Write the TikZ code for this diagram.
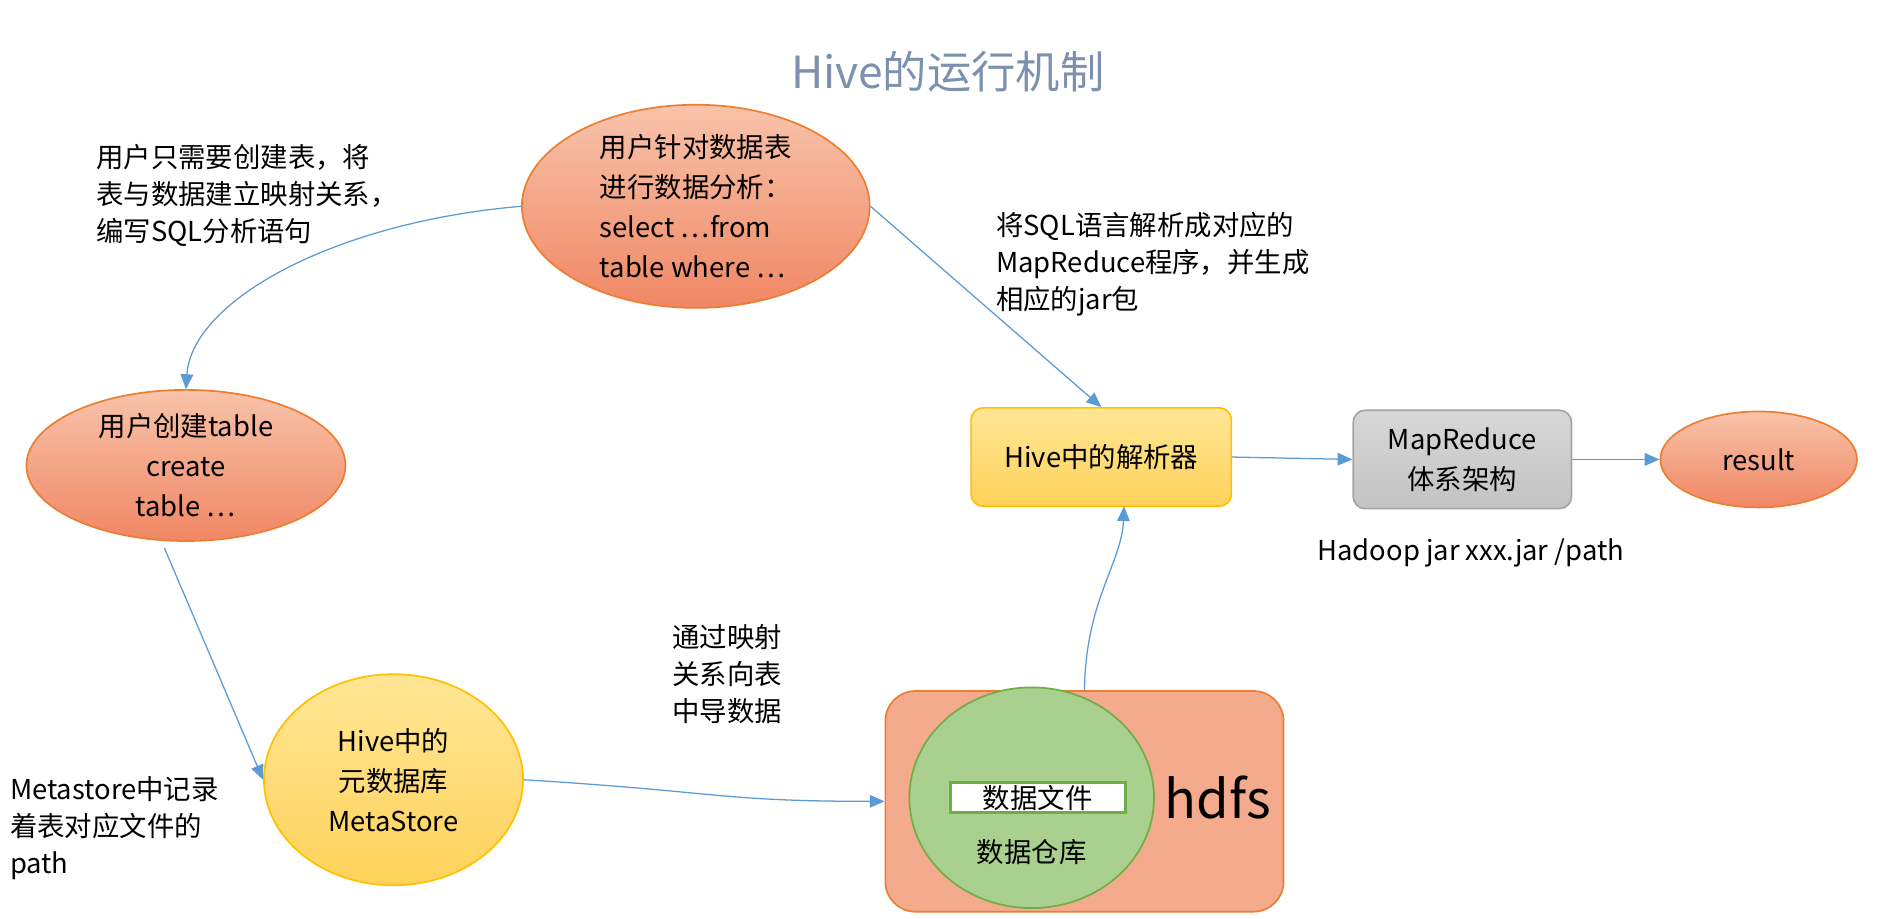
\documentclass[tikz,border=0pt]{standalone}
\usepackage{fontspec}
\setmainfont{Noto Sans CJK SC}
\usetikzlibrary{arrows.meta,shapes.geometric}
\definecolor{salmonA}{RGB}{240,135,100}
\definecolor{salmonB}{RGB}{248,195,170}
\definecolor{salmonE}{RGB}{237,125,49}
\definecolor{yelA}{RGB}{255,210,90}
\definecolor{yelB}{RGB}{255,230,150}
\definecolor{yelE}{RGB}{255,192,0}
\definecolor{grayA}{RGB}{195,195,195}
\definecolor{grayB}{RGB}{215,215,215}
\definecolor{grayE}{RGB}{165,165,165}
\definecolor{greenF}{RGB}{169,208,142}
\definecolor{greenE}{RGB}{112,173,71}
\definecolor{hdfsF}{RGB}{244,170,140}
\definecolor{arr}{RGB}{91,155,213}
\definecolor{titlec}{RGB}{125,145,175}
\tikzset{
 salm/.style={ellipse,draw=salmonE,line width=0.8pt,top color=salmonB,bottom color=salmonA,align=center,inner sep=0pt,font=\fontsize{13}{19}\selectfont},
 yel/.style={draw=yelE,line width=0.8pt,top color=yelB,bottom color=yelA,align=center,font=\fontsize{13}{19}\selectfont},
 conn/.style={draw=arr,line width=0.6pt,-{Triangle[length=7pt,width=6pt]}},
 lbl/.style={align=left,anchor=north west,font=\fontsize{13}{17.5}\selectfont,inner sep=0pt}
}
\begin{document}
\begin{tikzpicture}[x=0.02cm,y=-0.02cm]
\useasboundingbox (0,0) rectangle (1568,766);
\node[font=\fontsize{21}{25}\selectfont,text=titlec] (title) at (790,60) {Hive的运行机制};
\node[salm,minimum width=290\pgflinewidth*0+5.8cm,minimum height=2.8cm,align=left] (e1) at (580,172) {用户针对数据表\\进行数据分析：\\select …from\\table where …};
\node[salm,minimum width=5.32cm,minimum height=2.52cm] (e2) at (155,388) {用户创建table\\create\\table …};
\node[yel,ellipse,minimum width=4.32cm,minimum height=3.52cm,inner sep=0pt] (e3) at (328,650) {Hive中的\\元数据库\\MetaStore};
\node[draw=salmonE,line width=0.8pt,fill=hdfsF,rounded corners=0.5cm,minimum width=6.64cm,minimum height=3.68cm] (hdfs) at (904,668) {};
\node[ellipse,draw=greenE,line width=0.8pt,fill=greenF,minimum width=4.08cm,minimum height=3.68cm] (wh) at (860,665) {};
\node[draw=greenE,line width=1.5pt,fill=white,minimum width=2.92cm,minimum height=0.5cm,inner sep=0pt,font=\fontsize{13}{15}\selectfont] (file) at (865,665) {数据文件};
\node[font=\fontsize{13}{15}\selectfont] (whl) at (860,710) {数据仓库};
\node[font=\fontsize{25}{28}\selectfont] (hdfsl) at (1015,665) {hdfs};
\node[yel,rounded corners=0.2cm,minimum width=4.34cm,minimum height=1.64cm] (parser) at (918,381) {Hive中的解析器};
\node[draw=grayE,line width=0.8pt,top color=grayB,bottom color=grayA,rounded corners=0.2cm,minimum width=3.64cm,minimum height=1.64cm,align=center,font=\fontsize{13}{19}\selectfont] (mr) at (1219,383) {MapReduce\\体系架构};
\node[salm,minimum width=3.28cm,minimum height=1.6cm] (res) at (1466,383) {result};
\node[lbl] (t1) at (80,120) {用户只需要创建表，将\\表与数据建立映射关系，\\编写SQL分析语句};
\node[lbl] (t2) at (830,177) {将SQL语言解析成对应的\\MapReduce程序，并生成\\相应的jar包};
\node[lbl] (t3) at (8,647) {Metastore中记录\\着表对应文件的\\path};
\node[lbl] (t4) at (560,520) {通过映射\\关系向表\\中导数据};
\node[font=\fontsize{13}{15}\selectfont] (t5) at (1226,461) {Hadoop jar xxx.jar /path};
\draw[conn] (e1.west) .. controls (280,185) and (160,250) .. (e2.north);
\draw[conn] (e1.east) -- (parser.north);
\draw[conn] (e2.south) ++(-18,5) coordinate (s2) -- (e3.west);
\draw[conn] (e3.east) .. controls (600,660) and (600,668) .. (hdfs.west);
\draw[conn] (hdfs.north) .. controls (905,500) and (935,470) .. (937,422);
\draw[conn] (parser.east) -- (mr.west);
\draw[conn] (mr.east) -- (res.west);
\end{tikzpicture}
\end{document}
